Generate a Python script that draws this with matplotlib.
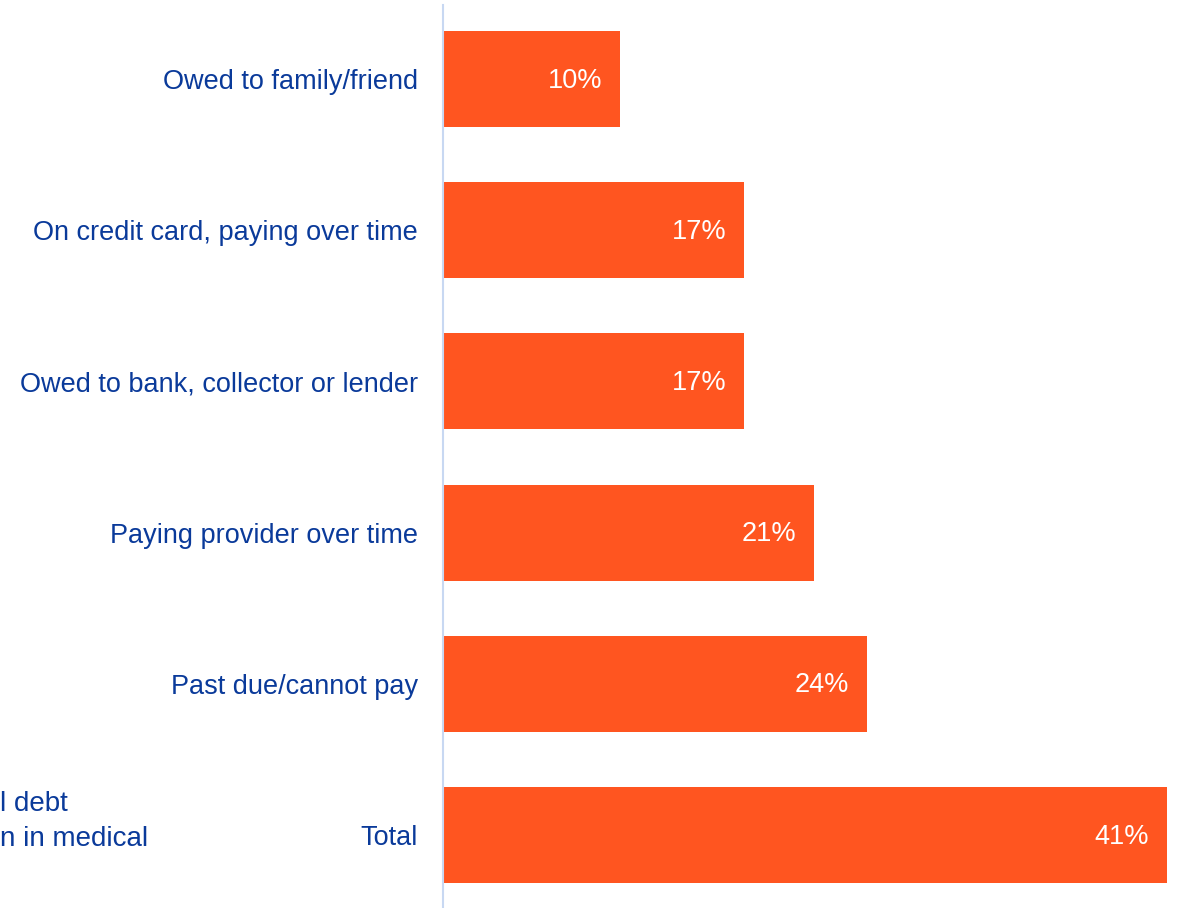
import matplotlib.pyplot as plt

categories = [
    "Owed to family/friend",
    "On credit card, paying over time",
    "Owed to bank, collector or lender",
    "Paying provider over time",
    "Past due/cannot pay",
    "Total",
]
values = [10, 17, 17, 21, 24, 41]
value_labels = ["10%", "17%", "17%", "21%", "24%", "41%"]

W, H = 1178, 908
fig = plt.figure(figsize=(W / 100, H / 100), dpi=100)
fig.patch.set_facecolor("white")

ax_left, ax_right = 443, 1178
ax_top, ax_bottom = 5, 908
ax = fig.add_axes([ax_left / W, 1 - ax_bottom / H,
                   (ax_right - ax_left) / W, (ax_bottom - ax_top) / H])

px_per_unit = (1167 - 444) / 41
ax.set_xlim(0, (ax_right - ax_left) / px_per_unit)
row_px = 151.2
first_center = 79
ax.set_ylim((ax_bottom - first_center) / row_px, (ax_top - first_center) / row_px)

bar_color = "#FF5520"
text_blue = "#0A3A9A"
ypos = list(range(len(categories)))
ax.barh(ypos, values, height=96 / row_px, color=bar_color, left=0.05)

for y, v, lab in zip(ypos, values, value_labels):
    ax.text(v - 0.95, y + 0.01, lab, ha="right", va="center", color="white",
            fontsize=19.5, family="Liberation Sans")

ax.set_yticks(ypos)
ax.set_yticklabels(categories, color=text_blue, fontsize=19.5, family="Liberation Sans")
ax.tick_params(axis="y", length=0, pad=18)
ax.set_xticks([])

for s in ["top", "right", "bottom"]:
    ax.spines[s].set_visible(False)
ax.spines["left"].set_color("#C8D8F2")
ax.spines["left"].set_linewidth(1.5)

# Partial caption at the left edge
fig.text(0, 1 - 804 / H, "l debt", ha="left", va="center", color=text_blue,
         fontsize=20, family="Liberation Sans")
fig.text(0, 1 - 839 / H, "n in medical", ha="left", va="center", color=text_blue,
         fontsize=20, family="Liberation Sans")

fig.savefig("out.png", dpi=100)
